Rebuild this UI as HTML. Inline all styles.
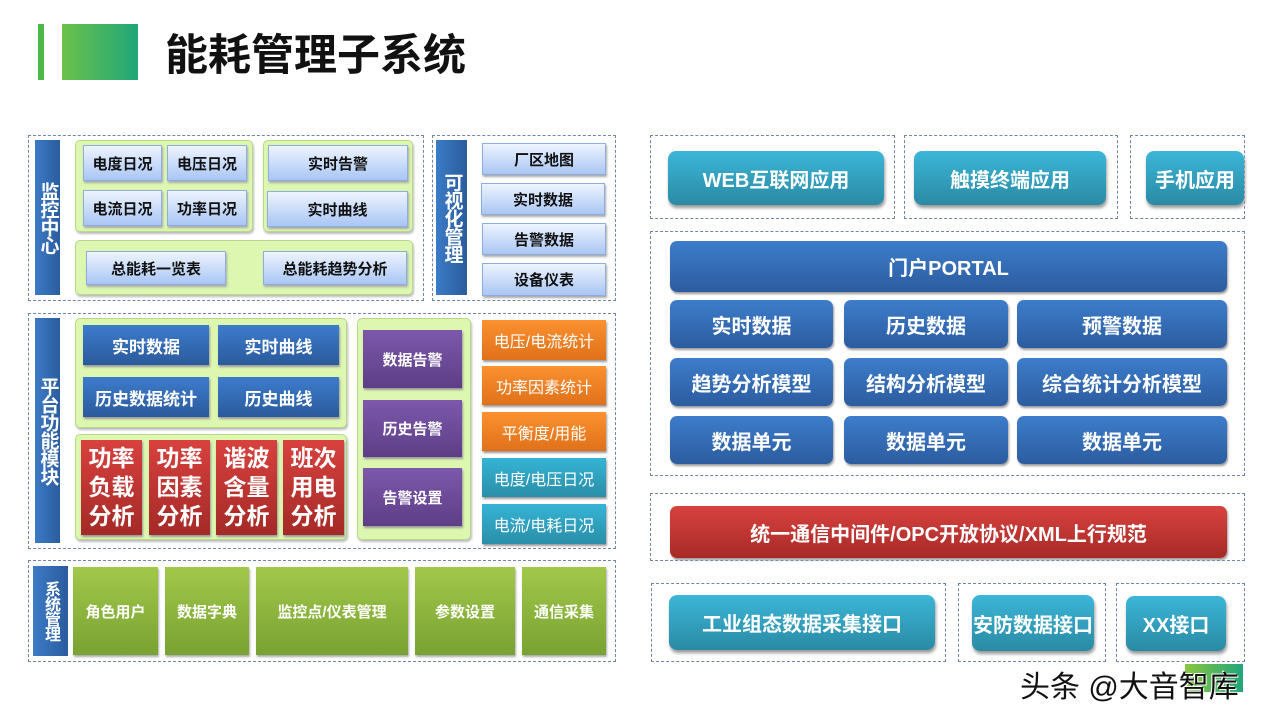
<!DOCTYPE html>
<html><head><meta charset="utf-8"><style>
*{margin:0;padding:0;box-sizing:border-box}
body{width:1279px;height:720px;background:#fff;position:relative;overflow:hidden;font-family:"Liberation Sans","Noto Sans CJK SC",sans-serif;font-weight:bold}
div{position:absolute}
.d{border:1.5px dashed #6f86ad}
.c{display:flex;align-items:center;justify-content:center;text-align:center}
.lb{background:linear-gradient(#eef4ff,#a9c6f4);border:1px solid #8eaee0;color:#111;font-size:15px;box-shadow:1px 2px 2px #aaa}
.g{background:#ddf7b0;border:1px solid #b9d98a;border-radius:5px;box-shadow:1px 2px 2px #bbb}
.vb{background:linear-gradient(90deg,#3c7bc6,#2a5c9d);color:#fff;font-size:19px;line-height:20px;writing-mode:vertical-rl;text-orientation:upright;letter-spacing:-1px}
.db{background:linear-gradient(#3d7ccc,#2b5a9c);color:#fff;font-size:17px;box-shadow:1px 2px 2px #999}
.rd{background:linear-gradient(#d8413e,#a42a27);color:#fff;font-size:23px;line-height:29px;box-shadow:1px 2px 2px #999}
.pp{background:linear-gradient(#7d58ac,#5d3e86);color:#fff;font-size:15px;box-shadow:1px 2px 2px #999}
.or{background:linear-gradient(#fb9130,#e0711a);color:#fff;font-size:16px;font-weight:normal;box-shadow:1px 2px 2px #999}
.tl{background:linear-gradient(#36b4d6,#2a8ea8);color:#fff;font-size:16px;font-weight:normal;box-shadow:1px 2px 2px #999}
.gr{background:linear-gradient(#a2c84a,#78a232);color:#fff;font-size:15px;box-shadow:1px 2px 2px #aaa}
.tb{background:linear-gradient(#3cb6d8,#2a8aa4);color:#fff;font-size:20px;border-radius:8px;box-shadow:1px 3px 3px #999}
.bb{background:linear-gradient(#3d7dcb,#2c5c9f);color:#fff;font-size:20px;border-radius:7px;box-shadow:1px 2px 2px #999}
</style></head><body>
<div style="left:38px;top:24px;width:6px;height:56px;background:#4cb848"></div>
<div style="left:62px;top:24px;width:76px;height:56px;background:linear-gradient(90deg,#6cc24a,#1fa67a)"></div>
<div style="left:165px;top:30px;font-size:43px;color:#111;line-height:52px;white-space:nowrap">能耗管理子系统</div>

<!-- monitor -->
<div class="d" style="left:28px;top:135px;width:396px;height:166px"></div>
<div class="vb c" style="left:35px;top:140px;width:25px;height:155px">监控中心</div>
<div class="g" style="left:75px;top:140px;width:178px;height:92px"></div>
<div class="lb c" style="left:83px;top:145px;width:79px;height:36px">电度日况</div>
<div class="lb c" style="left:167px;top:145px;width:80px;height:36px">电压日况</div>
<div class="lb c" style="left:83px;top:190px;width:79px;height:36px">电流日况</div>
<div class="lb c" style="left:167px;top:190px;width:80px;height:36px">功率日况</div>
<div class="g" style="left:263px;top:140px;width:150px;height:92px"></div>
<div class="lb c" style="left:268px;top:145px;width:140px;height:36px">实时告警</div>
<div class="lb c" style="left:267px;top:191px;width:141px;height:36px">实时曲线</div>
<div class="g" style="left:75px;top:240px;width:338px;height:55px"></div>
<div class="lb c" style="left:86px;top:251px;width:140px;height:34px">总能耗一览表</div>
<div class="lb c" style="left:263px;top:251px;width:144px;height:34px">总能耗趋势分析</div>

<div class="d" style="left:432px;top:135px;width:184px;height:166px"></div>
<div class="vb c" style="left:436px;top:140px;width:31px;height:155px">可视化管理</div>
<div class="lb c" style="left:482px;top:143px;width:124px;height:32px">厂区地图</div>
<div class="lb c" style="left:481px;top:183px;width:124px;height:32px">实时数据</div>
<div class="lb c" style="left:482px;top:223px;width:124px;height:32px">告警数据</div>
<div class="lb c" style="left:482px;top:263px;width:124px;height:33px">设备仪表</div>

<!-- platform -->
<div class="d" style="left:28px;top:313px;width:588px;height:236px"></div>
<div class="vb c" style="left:35px;top:318px;width:25px;height:225px">平台功能模块</div>
<div class="g" style="left:75px;top:318px;width:272px;height:110px"></div>
<div class="db c" style="left:83px;top:325px;width:126px;height:40px">实时数据</div>
<div class="db c" style="left:218px;top:325px;width:121px;height:40px">实时曲线</div>
<div class="db c" style="left:83px;top:377px;width:126px;height:40px">历史数据统计</div>
<div class="db c" style="left:218px;top:377px;width:121px;height:40px">历史曲线</div>
<div class="g" style="left:75px;top:434px;width:272px;height:106px"></div>
<div class="rd c" style="left:81px;top:440px;width:61px;height:95px">功率<br>负载<br>分析</div>
<div class="rd c" style="left:149px;top:440px;width:61px;height:95px">功率<br>因素<br>分析</div>
<div class="rd c" style="left:216px;top:440px;width:61px;height:95px">谐波<br>含量<br>分析</div>
<div class="rd c" style="left:283px;top:440px;width:61px;height:95px">班次<br>用电<br>分析</div>
<div class="g" style="left:357px;top:318px;width:114px;height:222px"></div>
<div class="pp c" style="left:363px;top:330px;width:99px;height:58px">数据告警</div>
<div class="pp c" style="left:363px;top:400px;width:99px;height:57px">历史告警</div>
<div class="pp c" style="left:363px;top:468px;width:99px;height:58px">告警设置</div>
<div class="or c" style="left:482px;top:320px;width:124px;height:40px">电压/电流统计</div>
<div class="or c" style="left:482px;top:366px;width:124px;height:39px">功率因素统计</div>
<div class="or c" style="left:482px;top:412px;width:124px;height:39px">平衡度/用能</div>
<div class="tl c" style="left:482px;top:458px;width:124px;height:39px">电度/电压日况</div>
<div class="tl c" style="left:482px;top:504px;width:124px;height:40px">电流/电耗日况</div>

<!-- system -->
<div class="d" style="left:28px;top:560px;width:588px;height:102px"></div>
<div class="vb c" style="left:33px;top:566px;width:35px;height:90px;font-size:16px;line-height:17px">系统管理</div>
<div class="gr c" style="left:73px;top:567px;width:85px;height:88px">角色用户</div>
<div class="gr c" style="left:165px;top:567px;width:84px;height:88px">数据字典</div>
<div class="gr c" style="left:256px;top:567px;width:152px;height:88px">监控点/仪表管理</div>
<div class="gr c" style="left:415px;top:567px;width:100px;height:88px">参数设置</div>
<div class="gr c" style="left:522px;top:567px;width:84px;height:88px">通信采集</div>

<!-- right -->
<div class="d" style="left:650px;top:135px;width:245px;height:84px"></div>
<div class="d" style="left:904px;top:135px;width:214px;height:84px"></div>
<div class="d" style="left:1130px;top:135px;width:115px;height:84px"></div>
<div class="tb c" style="left:668px;top:151px;width:216px;height:54px">WEB互联网应用</div>
<div class="tb c" style="left:914px;top:151px;width:192px;height:54px">触摸终端应用</div>
<div class="tb c" style="left:1146px;top:151px;width:98px;height:54px">手机应用</div>

<div class="d" style="left:650px;top:231px;width:595px;height:245px"></div>
<div class="bb c" style="left:670px;top:241px;width:557px;height:51px">门户PORTAL</div>
<div class="bb c" style="left:670px;top:300px;width:163px;height:48px">实时数据</div>
<div class="bb c" style="left:844px;top:300px;width:164px;height:48px">历史数据</div>
<div class="bb c" style="left:1017px;top:300px;width:210px;height:48px">预警数据</div>
<div class="bb c" style="left:670px;top:358px;width:163px;height:48px">趋势分析模型</div>
<div class="bb c" style="left:844px;top:358px;width:164px;height:48px">结构分析模型</div>
<div class="bb c" style="left:1017px;top:358px;width:210px;height:48px">综合统计分析模型</div>
<div class="bb c" style="left:670px;top:416px;width:163px;height:48px">数据单元</div>
<div class="bb c" style="left:844px;top:416px;width:164px;height:48px">数据单元</div>
<div class="bb c" style="left:1017px;top:416px;width:210px;height:48px">数据单元</div>

<div class="d" style="left:650px;top:493px;width:595px;height:68px"></div>
<div class="c" style="left:670px;top:506px;width:557px;height:52px;background:linear-gradient(#d8423f,#a72a27);color:#fff;font-size:20px;border-radius:7px;box-shadow:1px 2px 2px #999">统一通信中间件/OPC开放协议/XML上行规范</div>

<div class="d" style="left:651px;top:583px;width:295px;height:79px"></div>
<div class="d" style="left:958px;top:583px;width:148px;height:79px"></div>
<div class="d" style="left:1116px;top:583px;width:129px;height:79px"></div>
<div class="tb c" style="left:669px;top:595px;width:266px;height:55px">工业组态数据采集接口</div>
<div class="tb c" style="left:972px;top:595px;width:122px;height:56px">安防数据接口</div>
<div class="tb c" style="left:1126px;top:596px;width:100px;height:55px">XX接口</div>

<div style="left:1185px;top:664px;width:58px;height:28px;background:linear-gradient(90deg,#8cc63f,#1fa67a)"></div>
<div style="left:1020px;top:662px;font-size:30px;font-weight:normal;color:#111;text-shadow:1px 1px 0 #fff,-1px -1px 0 #fff;white-space:nowrap">头条 @大音智库</div>
</body></html>
